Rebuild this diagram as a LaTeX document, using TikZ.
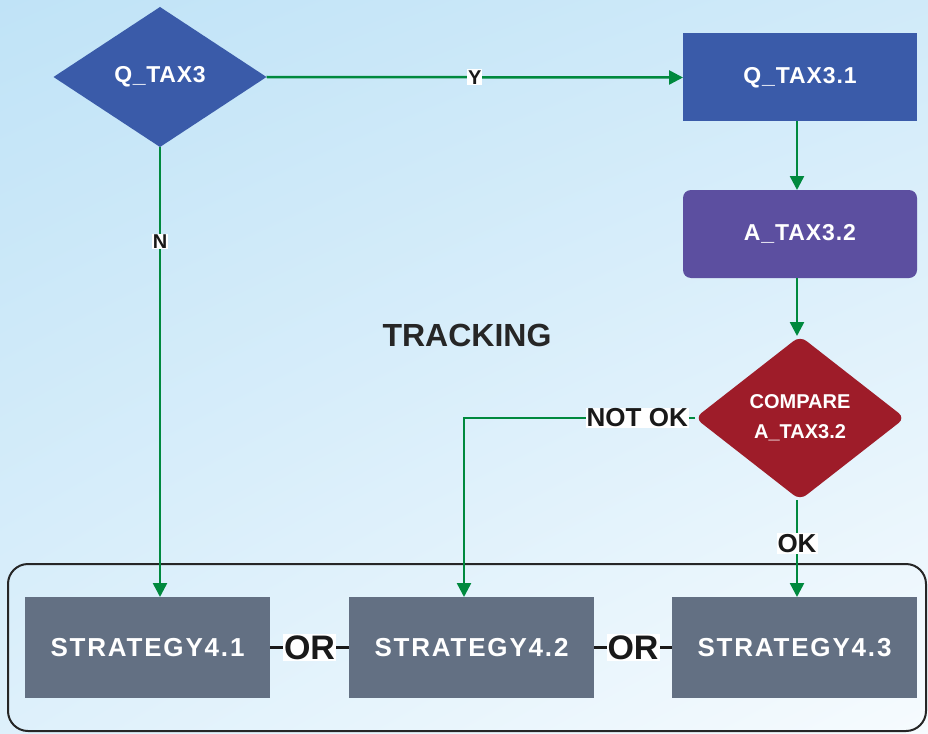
\documentclass[tikz,border=0pt]{standalone}
\usepackage{fontspec}
\setmainfont{Liberation Sans}
\usetikzlibrary{shapes.geometric,arrows.meta,shadings}

\definecolor{flowgreen}{HTML}{00893E}
\definecolor{qblue}{HTML}{3A5BA9}
\definecolor{apurple}{HTML}{5C4FA0}
\definecolor{cmpred}{HTML}{9E1C29}
\definecolor{stratgray}{HTML}{637083}
\definecolor{bgtop}{HTML}{C0E3F7}
\definecolor{bgbottom}{HTML}{F6FBFE}

\tikzset{
  qdiamond/.style={diamond, fill=qblue, text=white, inner sep=0pt, outer sep=0pt,
    minimum width=213pt, minimum height=140pt,
    font=\bfseries\fontsize{23}{27}\selectfont\addfontfeature{LetterSpace=3}},
  qbox/.style={rectangle, fill=qblue, text=white, outer sep=0pt,
    minimum width=234pt, minimum height=88pt,
    font=\bfseries\fontsize{23}{27}\selectfont\addfontfeature{LetterSpace=4}},
  abox/.style={qbox, fill=apurple, rounded corners=8pt},
  cmpdiamond/.style={diamond, fill=cmpred, text=white, inner sep=0pt, outer sep=0pt,
    rounded corners=8pt, align=center, minimum width=210pt, minimum height=164pt,
    font=\bfseries\fontsize{20}{30}\selectfont},
  stratbox/.style={rectangle, fill=stratgray, text=white, outer sep=0pt,
    minimum width=245pt, minimum height=101pt,
    font=\bfseries\fontsize{26}{30}\selectfont\addfontfeature{LetterSpace=7}},
  flow/.style={draw=flowgreen, line width=2.5pt, -{Triangle[length=14pt,width=14pt]}},
  flowlabel/.style={fill=white, text=black!90, inner sep=1pt, font=\bfseries\fontsize{20}{24}\selectfont},
  orlink/.style={draw=black!90, line width=3pt},
  orlabel/.style={fill=white, text=black!90, inner sep=1pt, font=\bfseries\fontsize{34}{38}\selectfont}
}

\begin{document}
\begin{tikzpicture}[x=1pt,y=-1pt]

        % Background
        \useasboundingbox (0,0) rectangle (928,733);
        \shade[upper left=bgtop, upper right=bgtop!70!bgbottom, lower left=bgtop!45!bgbottom, lower right=bgbottom]
          (0,0) rectangle (928,733);

        % Container round the strategies
        \draw[line width=2pt, rounded corners=20pt, draw=black!85] (8,564) rectangle (926,731);

        % Question and answer nodes
        \node[qdiamond] (qtax3) at (160,77) {Q\_TAX3};
        \node[qbox] (qtax31) at (800,77.5) {Q\_TAX3.1};
        \node[abox] (atax32) at (800,234) {A\_TAX3.2};
        \node[cmpdiamond] (compare) at (800,418) {COMPARE\\A\_TAX3.2};

        % Title
        \node[text=black!85, font=\bfseries\fontsize{32}{36}\selectfont] (tracking) at (467,335) {TRACKING};

        % Strategies
        \node[stratbox] (strat41) at (147.5,647.5) {STRATEGY4.1};
        \node[stratbox] (strat42) at (471.5,647.5) {STRATEGY4.2};
        \node[stratbox] (strat43) at (794.5,647.5) {STRATEGY4.3};

        % Connectors
        \draw[flow] (qtax3.east) -- node[flowlabel] {Y} (qtax31.west);
        \draw[flow] (qtax3.south) -- node[flowlabel, pos=0.21] {N} (qtax3.south |- strat41.north);
        \draw[flow] (qtax31.south -| 797,0) -- (atax32.north -| 797,0);
        \draw[flow] (atax32.south -| 797,0) -- (compare.north -| 797,0);
        \coordinate (notokturn) at (compare.west -| 464,0);
        \draw[flow] (compare.west) -- node[flowlabel, pos=0.25, font=\bfseries\fontsize{26}{30}\selectfont] {NOT OK}
          (notokturn) -- (notokturn |- strat42.north);
        \draw[flow] (compare.south -| 797,0) -- node[flowlabel, pos=0.45, font=\bfseries\fontsize{26}{30}\selectfont] {OK}
          (strat43.north -| 797,0);

        % OR links between strategies
        \draw[orlink] (strat41.east) -- node[orlabel] {OR} (strat42.west);
        \draw[orlink] (strat42.east) -- node[orlabel] {OR} (strat43.west);

    \end{tikzpicture}
\end{document}
